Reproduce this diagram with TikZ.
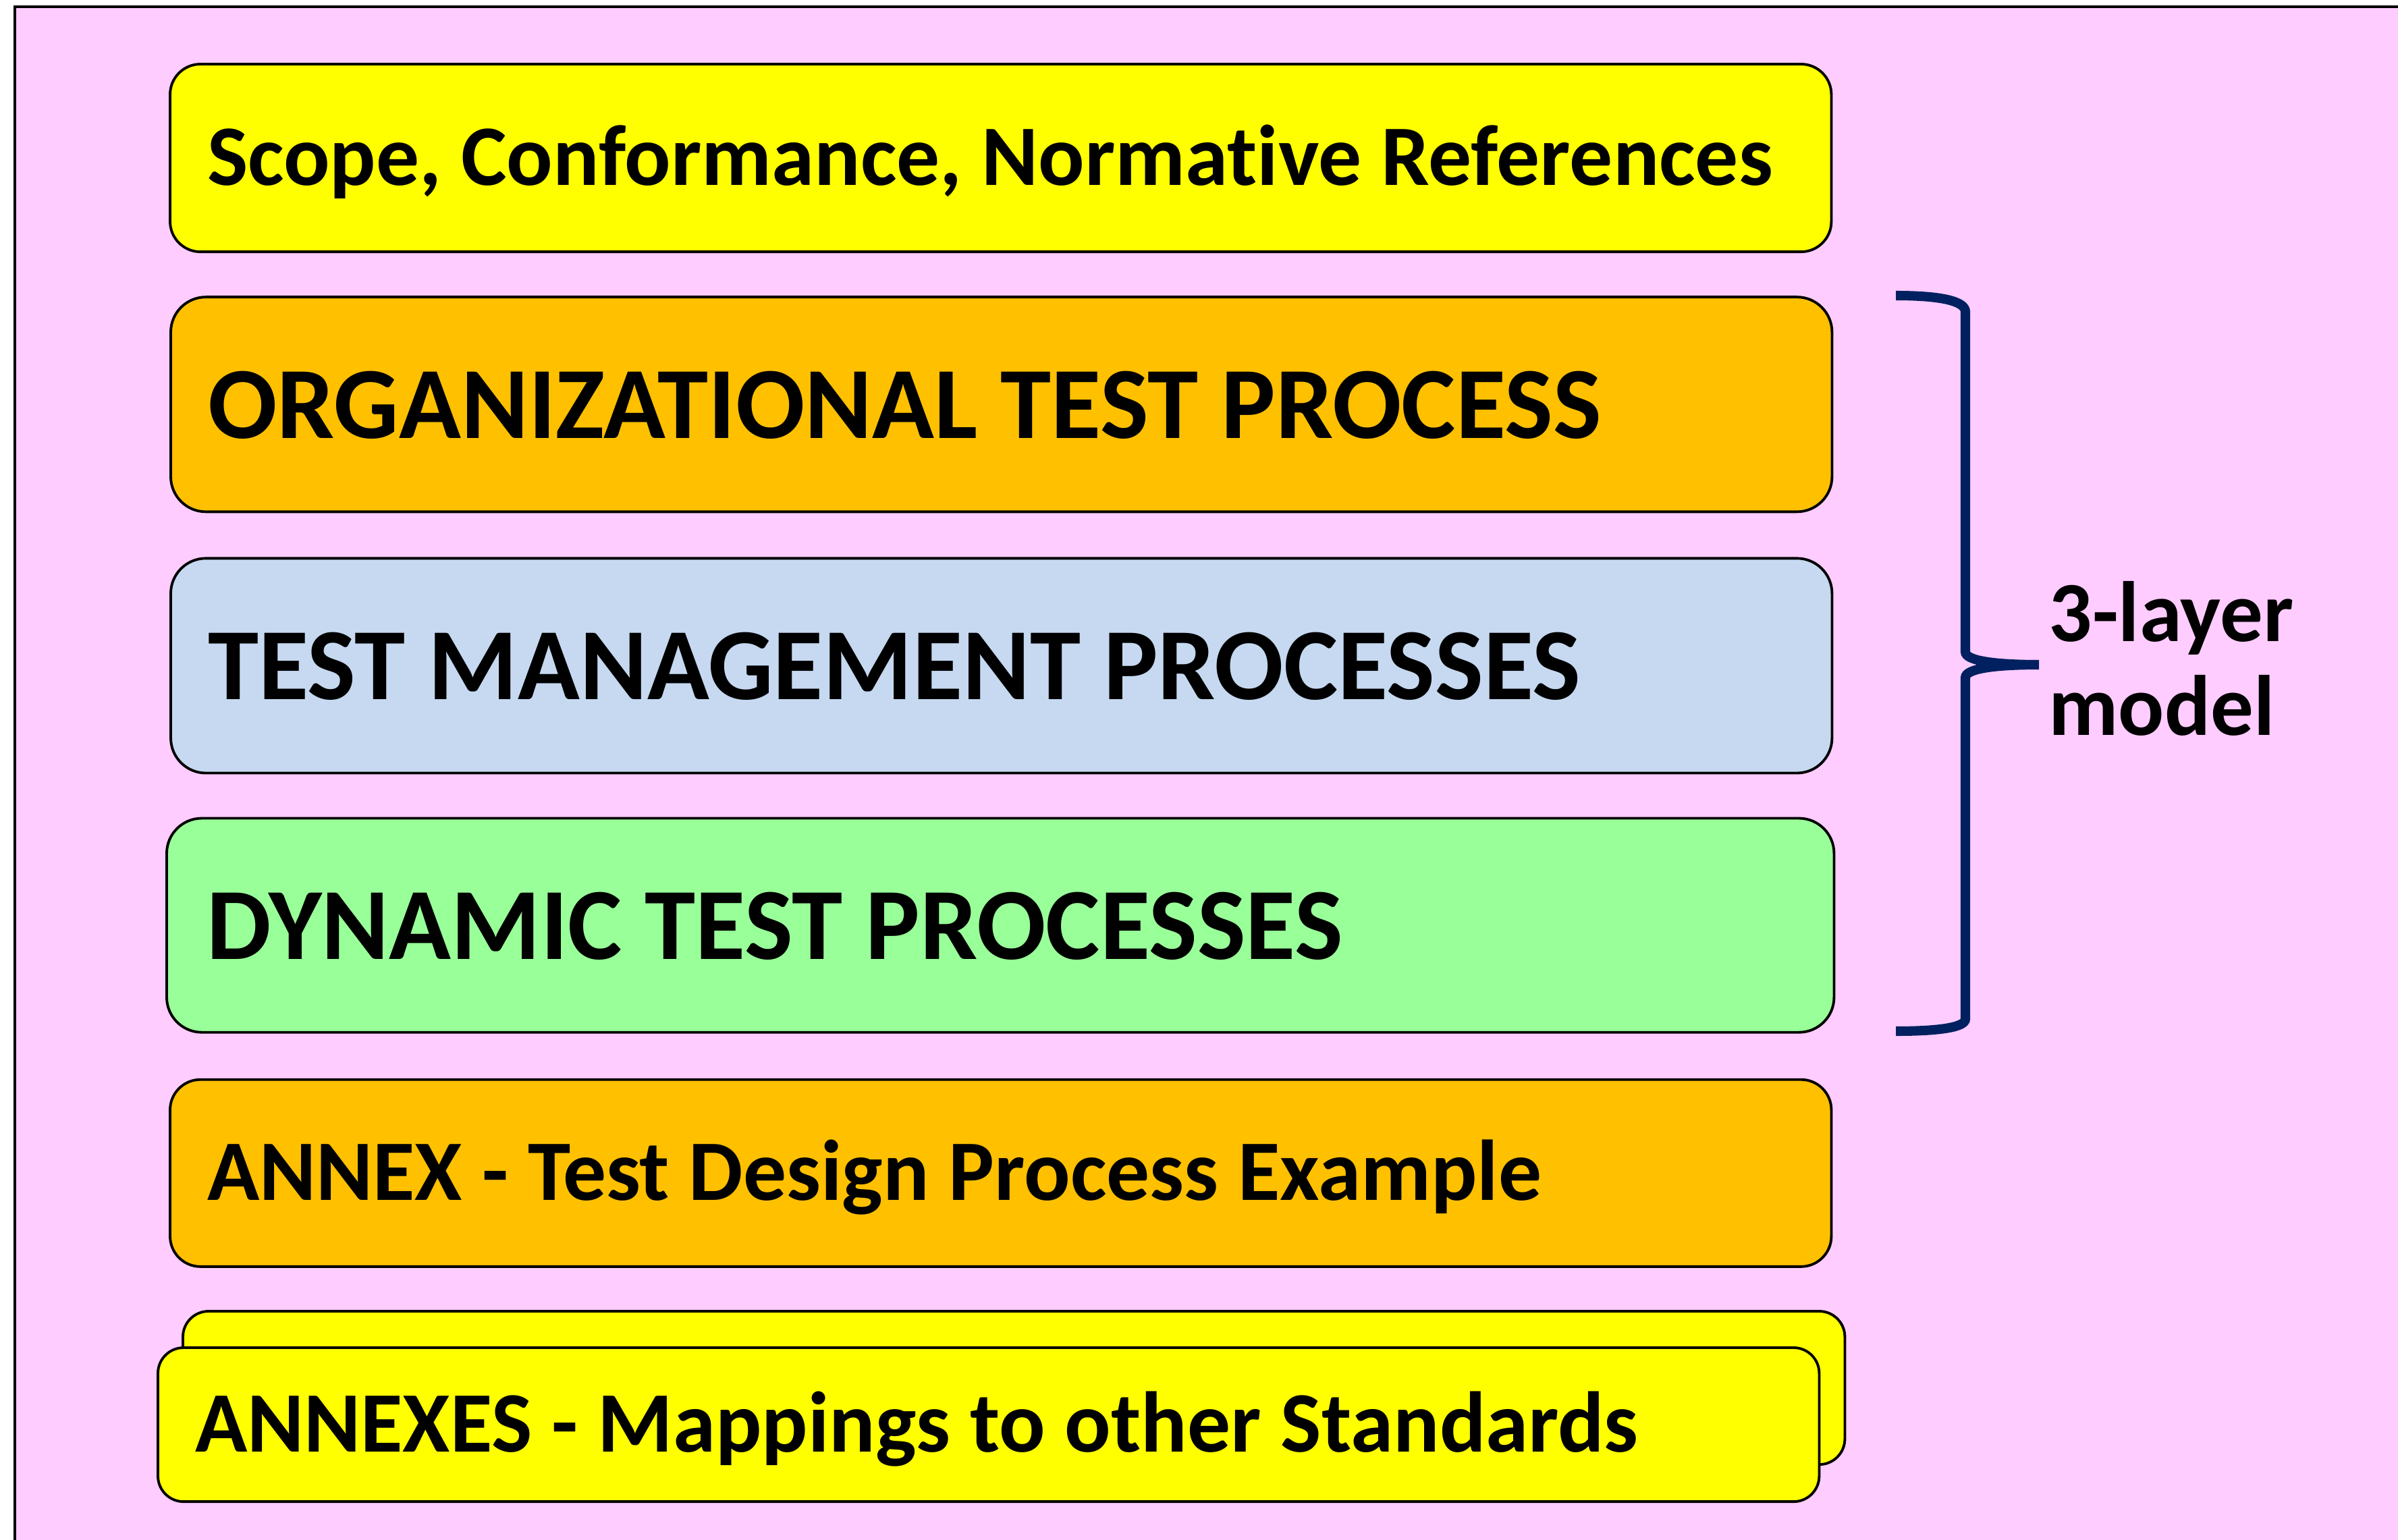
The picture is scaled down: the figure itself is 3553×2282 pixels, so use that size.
\documentclass[tikz,border=0pt]{standalone}
\usepackage{fontspec}
\setmainfont{Carlito}[Ligatures={NoCommon,NoContextual}]
\usetikzlibrary{calc}
\usetikzlibrary{positioning}
\definecolor{pinkbg}{HTML}{FFCCFF}
\definecolor{boxyellow}{HTML}{FFFF00}
\definecolor{boxorange}{HTML}{FFC000}
\definecolor{boxblue}{HTML}{C6D9F1}
\definecolor{boxgreen}{HTML}{99FF99}
\definecolor{bracenavy}{HTML}{002060}
\newcommand\lefttext[1]{\makebox[23.5cm][l]{#1}}
\tikzstyle{layerbox} = [draw, line width=1.1pt, rounded corners=0.52cm, anchor=north west, outer sep=0pt, inner xsep=0.55cm, minimum width=24.6cm, minimum height=3.18cm, text height=28.4pt, text depth=0pt, font=\fontsize{43.1}{48}\selectfont\bfseries]
\tikzstyle{smallbox} = [layerbox, rounded corners=0.45cm, minimum height=2.78cm, text height=22.8pt, font=\fontsize{36.3}{40}\selectfont\bfseries]
\tikzstyle{colorY} = [fill=boxyellow]
\tikzstyle{colorO} = [fill=boxorange]
\begin{document}
\begin{tikzpicture}[x=0.01cm, y=-0.01cm]
\useasboundingbox (0,0) rectangle (3553,2282);
\draw[line width=1.4pt, fill=pinkbg] (22,10) rectangle (3640,2360);

\node[smallbox, colorY] (scope) at (252,95) {\lefttext{Scope, Conformance, Normative References}};
\node[layerbox, colorO] (org) at ($(scope.south west)+(1,67)$) {\lefttext{ORGANIZATIONAL TEST PROCESS}};
\node[layerbox, fill=boxblue] (mgmt) at ($(org.south west)+(0,69)$) {\lefttext{TEST MANAGEMENT PROCESSES}};
\node[layerbox, fill=boxgreen, minimum width=24.69cm, minimum height=3.17cm] (dyn) at ($(mgmt.south west)+(-6,67)$) {\lefttext{DYNAMIC TEST PROCESSES}};
\node[smallbox, colorO, minimum height=2.77cm] (annex) at ($(dyn.south west)+(5,70)$) {\lefttext{ANNEX - Test Design Process Example}};

\node[smallbox, colorY, rounded corners=0.38cm, minimum width=24.61cm, minimum height=2.27cm] (annexes_back) at (271,1943) {};
\node[smallbox, colorY, rounded corners=0.38cm, minimum width=24.57cm, minimum height=2.28cm] (annexes) at (234,1997) {\lefttext{ANNEXES - Mappings to other Standards}};

\draw[bracenavy, line width=4pt] (2809,438) .. controls (2875,438) and (2912,446) .. (2912,462)
  -- (2912,966) .. controls (2912,979) and (2955,985) .. (3021,985)
  .. controls (2955,985) and (2912,991) .. (2912,1004)
  -- (2912,1510) .. controls (2912,1522) and (2875,1528) .. (2809,1528);
\node[font=\fontsize{36.1}{39.3}\selectfont\bfseries, align=left, anchor=base west, inner sep=0pt] (layer_label) at (3035,1089) {3-layer\\model};
\end{tikzpicture}
\end{document}
